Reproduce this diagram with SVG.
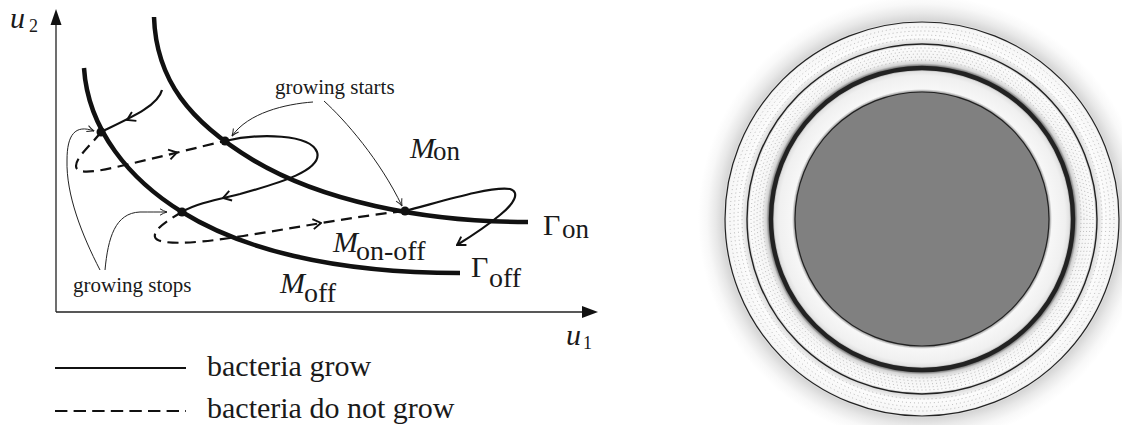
<svg xmlns="http://www.w3.org/2000/svg" width="1122" height="425" viewBox="0 0 1122 425">
<style>
.thick{fill:none;stroke:#111;stroke-width:4.5}
.traj{fill:none;stroke:#111;stroke-width:2.2}
.dash{stroke-dasharray:11 6.5}
.ann{fill:none;stroke:#222;stroke-width:1}
.axis{stroke:#222;stroke-width:1.3;fill:none}
.dot{fill:#111}
.t{font-family:"Liberation Serif","Times New Roman",serif;fill:#1a1a1a}
.i{font-style:italic}
.ring{fill:none;stroke:#222}
.dots{fill:none;stroke:#999;stroke-width:0.7;stroke-dasharray:1 3}
</style>
<defs>
<marker id="chev" viewBox="0 0 10 12" refX="9" refY="6" markerWidth="10" markerHeight="12" markerUnits="userSpaceOnUse" orient="auto">
<path d="M1,1 L9,6 L1,11" fill="none" stroke="#111" stroke-width="1.9"/>
</marker>
<marker id="annh" viewBox="0 0 8 8" refX="7.5" refY="4" markerWidth="8" markerHeight="8" markerUnits="userSpaceOnUse" orient="auto">
<path d="M0.5,0.8 Q4,3 7.5,4 Q4,5 0.5,7.2" fill="none" stroke="#222" stroke-width="1"/>
</marker>
<radialGradient id="shade" gradientUnits="userSpaceOnUse" cx="922" cy="219" r="224">
<stop offset="0" stop-color="#808080"/>
<stop offset="0.566" stop-color="#808080"/>
<stop offset="0.58" stop-color="#f7f7f7"/>
<stop offset="0.64" stop-color="#f0f0f0"/>
<stop offset="0.658" stop-color="#e2e2e2"/>
<stop offset="0.667" stop-color="#a0a0a0"/>
<stop offset="0.674" stop-color="#000000"/>
<stop offset="0.68" stop-color="#555555"/>
<stop offset="0.695" stop-color="#d2d2d2"/>
<stop offset="0.715" stop-color="#f5f5f5"/>
<stop offset="0.77" stop-color="#fbfbfb"/>
<stop offset="0.777" stop-color="#d8d8d8"/>
<stop offset="0.79" stop-color="#e2e2e2"/>
<stop offset="0.81" stop-color="#fcfcfc"/>
<stop offset="0.87" stop-color="#f6f6f6"/>
<stop offset="0.888" stop-color="#d6d6d6"/>
<stop offset="0.92" stop-color="#e8e8e8"/>
<stop offset="0.96" stop-color="#f8f8f8"/>
<stop offset="1" stop-color="#ffffff"/>
</radialGradient>
</defs>
<rect width="1122" height="425" fill="#fff"/>

<g id="axes">
<path class="axis" d="M56,312 L56,24 M56,312 L583,312"/>
<path d="M56,9 L50.5,25 L61.5,25 Z" fill="#111"/>
<path d="M598,312 L582,306 L582,318 Z" fill="#111"/>
<text class="t i" x="10" y="28" font-size="30">u</text>
<text class="t" x="29" y="32" font-size="18">2</text>
<text class="t i" x="566" y="345" font-size="30">u</text>
<text class="t" x="583" y="349" font-size="18">1</text>
</g>

<g id="gamma-on">
<path class="thick" d="M154,17 C156,80 190,122 253,160 C320,200 420,222 528,222"/>
<text class="t" x="543" y="235" font-size="30">Γ</text>
<text class="t" x="562" y="238" font-size="27">on</text>
</g>
<g id="gamma-off">
<path class="thick" d="M84,68 C88,130 130,180 182,212 C240,248 330,273 460,273"/>
<text class="t" x="471" y="277" font-size="30">Γ</text>
<text class="t" x="489" y="287" font-size="28">off</text>
</g>

<g id="region-labels">
<text class="t i" x="410" y="158" font-size="30">M</text>
<text class="t" x="433" y="160" font-size="27">on</text>
<text class="t i" x="333" y="252" font-size="30">M</text>
<text class="t" x="356" y="260" font-size="28">on-off</text>
<text class="t i" x="280" y="293" font-size="30">M</text>
<text class="t" x="304" y="302" font-size="28">off</text>
</g>

<g id="connectors">
<path class="traj" d="M162,90 C158,106 130,118 101,132"/>
<path class="traj" d="M129,119 L127,120" marker-end="url(#chev)"/>
<path class="traj dash" d="M101,132 C92,144 76,157 76,166 C76,175 96,172 125,165 C160,157 195,148 225,141"/>
<path class="traj" d="M175,153 L177,152.5" marker-end="url(#chev)"/>
<path class="traj" d="M225,141 C260,133 310,134 317,152 C323,170 280,183 240,194 C215,200 195,204 182,212"/>
<path class="traj" d="M225,197.4 L223,198" marker-end="url(#chev)"/>
<path class="traj dash" d="M182,212 C170,219 153,229 155,237 C157,245 190,244 230,238 C290,229 350,217 405,211"/>
<path class="traj" d="M319,223.3 L321,223" marker-end="url(#chev)"/>
<path class="traj" d="M405,211 C440,202 490,186 510,189 C520,192 515,203 500,215 C488,225 470,237 457,245" marker-end="url(#chev)"/>
<path class="ann" d="M313,102 C285,104 248,113 232,136" marker-end="url(#annh)"/>
<path class="ann" d="M324,101 C345,120 380,160 402,206" marker-end="url(#annh)"/>
<path class="ann" d="M100,270 C82,235 66,195 67,160 C67,135 75,124 94,131" marker-end="url(#annh)"/>
<path class="ann" d="M105,270 C108,238 115,213 140,212 C150,212 158,212 167,212" marker-end="url(#annh)"/>
</g>

<g id="points">
<circle class="dot" cx="101" cy="132" r="4.5"/>
<circle class="dot" cx="225" cy="141" r="4.5"/>
<circle class="dot" cx="182" cy="212" r="4.5"/>
<circle class="dot" cx="405" cy="211" r="4.5"/>
</g>

<g id="annotations">
<text class="t" x="275" y="94" font-size="21">growing starts</text>
<text class="t" x="73" y="292" font-size="21">growing stops</text>
</g>

<g id="legend">
<path class="traj" d="M55,368 L186,368"/>
<path class="traj" d="M55,411 L186,411" stroke-dasharray="12.4 6.2"/>
<text class="t" x="207" y="376" font-size="30">bacteria grow</text>
<text class="t" x="207" y="418" font-size="30">bacteria do not grow</text>
</g>

<g id="rings-figure">
<circle cx="922" cy="219" r="224" fill="url(#shade)"/>
<circle class="ring" cx="922" cy="219" r="197" stroke-width="1.2"/>
<circle class="ring" cx="922" cy="219" r="175" stroke-width="1.4"/>
<circle class="ring" cx="922" cy="219" r="151" stroke="#000" stroke-width="4.4"/>
<circle class="dots" cx="922" cy="219" r="159"/>
<circle class="dots" cx="922" cy="219" r="162"/>
<circle class="dots" cx="922" cy="219" r="165"/>
<circle class="dots" cx="922" cy="219" r="168"/>
<circle class="dots" cx="922" cy="219" r="171"/>
<circle class="dots" cx="922" cy="219" r="180"/>
<circle class="dots" cx="922" cy="219" r="184"/>
<circle class="dots" cx="922" cy="219" r="188"/>
<circle class="dots" cx="922" cy="219" r="192"/>
<circle cx="922" cy="219" r="127" fill="#808080" stroke="#222" stroke-width="1.2"/>
</g>
</svg>
